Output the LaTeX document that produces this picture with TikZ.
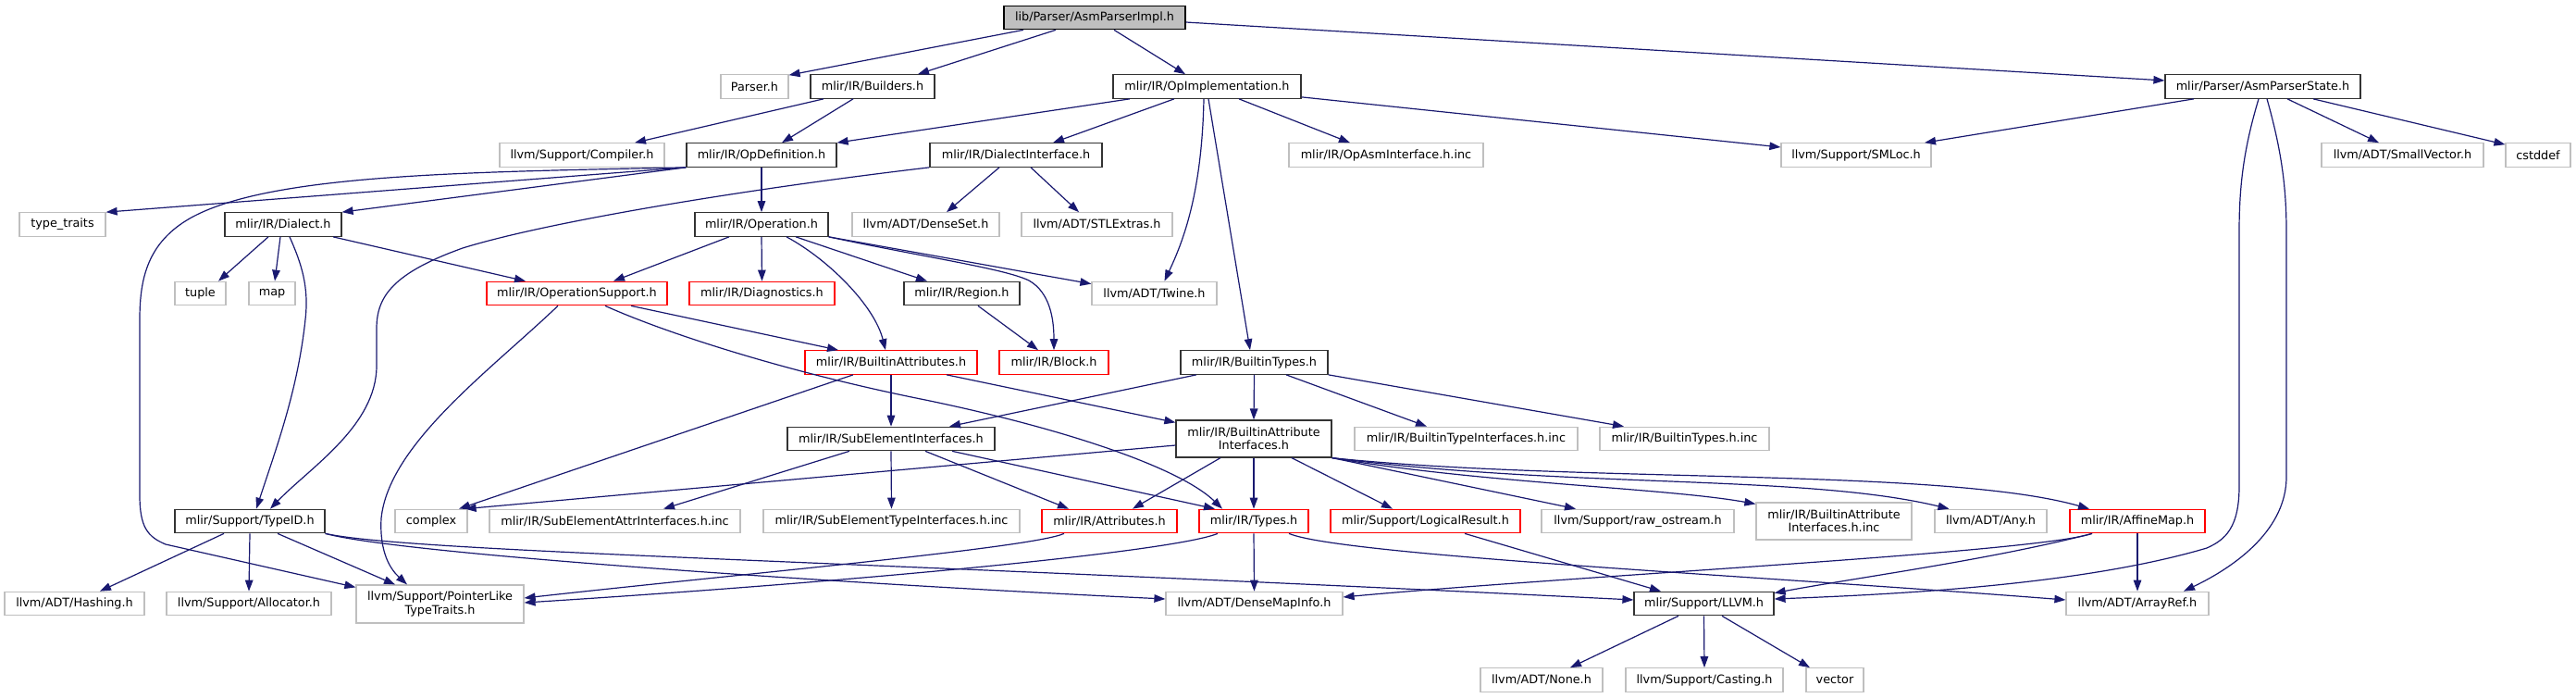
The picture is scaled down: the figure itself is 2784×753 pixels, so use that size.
\documentclass[tikz,border=0pt]{standalone}
\usepackage{fontspec}
\setmainfont{DejaVu Sans}
\usetikzlibrary{arrows.meta, positioning}

\definecolor{edgeblue}{HTML}{191970}
\definecolor{extgray}{HTML}{BFBFBF}
\newcommand{\depfont}{\fontsize{12.8}{14.3}\selectfont}

\begin{document}
\begin{tikzpicture}[
    x=1pt, y=-1pt,
    file/.style={rectangle, draw, line width=1.2pt, fill=white, minimum height=25.5, inner xsep=2pt, inner ysep=1pt, align=center, font=\depfont},
    root/.style={file, draw=black, fill=extgray},
    doc/.style={file, draw=black!80},
    ext/.style={file, draw=extgray},
    trunc/.style={file, draw=red},
    dep/.style={draw=edgeblue, line width=1.2pt, -{Triangle[length=12pt, width=8.5pt]}}
]

    \path [use as bounding box, fill=white] (0,0) rectangle (2784,753);

    % Layer 0: the file itself
    \node [root, minimum width=196] (asmimpl) at (1183,19) {lib/Parser/AsmParserImpl.h};

    % Layer 1: direct includes
    \node [ext, minimum width=73] (parser) at (815.5,93.5) {Parser.h};
    \node [doc, minimum width=134] (builders) at (943,93.5) {mlir/IR/Builders.h};
    \node [doc, minimum width=203] (opimpl) at (1304.5,93.5) {mlir/IR/OpImplementation.h};
    \node [doc, minimum width=211] (asmstate) at (2445.5,93.5) {mlir/Parser/AsmParserState.h};

    % Layer 2
    \node [ext, minimum width=178] (compiler) at (629,167.5) {llvm/Support/Compiler.h};
    \node [doc, minimum width=162] (opdef) at (823,167.5) {mlir/IR/OpDefinition.h};
    \node [doc, minimum width=186] (dialiface) at (1098,167.5) {mlir/IR/DialectInterface.h};
    \node [ext, minimum width=210] (opasm) at (1498,167.5) {mlir/IR/OpAsmInterface.h.inc};
    \node [ext, minimum width=162] (smloc) at (2006,167.5) {llvm/Support/SMLoc.h};
    \node [ext, minimum width=175] (smallvec) at (2596.5,167.5) {llvm/ADT/SmallVector.h};
    \node [ext, minimum width=70] (cstddef) at (2743,167.5) {cstddef};

    % Layer 3
    \node [ext, minimum width=93] (typetraits) at (67.5,242.5) {type\_traits};
    \node [doc, minimum width=126] (dialect) at (306,242.5) {mlir/IR/Dialect.h};
    \node [doc, minimum width=144] (operation) at (823,242.5) {mlir/IR/Operation.h};
    \node [ext, minimum width=159] (denseset) at (1000.5,242.5) {llvm/ADT/DenseSet.h};
    \node [ext, minimum width=163] (stlextras) at (1185.5,242.5) {llvm/ADT/STLExtras.h};

    % Layer 4
    \node [ext, minimum width=55] (tuple) at (216.5,317) {tuple};
    \node [ext, minimum width=50] (map) at (294,317) {map};
    \node [trunc, minimum width=195] (opsupport) at (623.5,317) {mlir/IR/OperationSupport.h};
    \node [trunc, minimum width=157] (diagnostics) at (823.5,317) {mlir/IR/Diagnostics.h};
    \node [doc, minimum width=125] (region) at (1039.5,317) {mlir/IR/Region.h};
    \node [ext, minimum width=135] (twine) at (1247.5,317) {llvm/ADT/Twine.h};

    % Layer 5
    \node [trunc, minimum width=186] (builtinattrs) at (963,391.5) {mlir/IR/BuiltinAttributes.h};
    \node [trunc, minimum width=118] (block) at (1139,391.5) {mlir/IR/Block.h};
    \node [doc, minimum width=159] (builtintypes) at (1355.5,391.5) {mlir/IR/BuiltinTypes.h};

    % Layer 6
    \node [doc, minimum width=224] (subelem) at (963,474) {mlir/IR/SubElementInterfaces.h};
    \node [doc, minimum width=168, minimum height=40] (bai) at (1355,474) {mlir/IR/BuiltinAttribute\\Interfaces.h};
    \node [ext, minimum width=241] (btiinc) at (1584.5,474) {mlir/IR/BuiltinTypeInterfaces.h.inc};
    \node [ext, minimum width=183] (btinc) at (1820.5,474) {mlir/IR/BuiltinTypes.h.inc};

    % Layer 7
    \node [doc, minimum width=162] (typeid) at (270,563) {mlir/Support/TypeID.h};
    \node [ext, minimum width=78] (complex) at (466,563) {complex};
    \node [ext, minimum width=271] (seattr) at (664.5,563) {mlir/IR/SubElementAttrInterfaces.h.inc};
    \node [ext, minimum width=277] (setype) at (963.5,563) {mlir/IR/SubElementTypeInterfaces.h.inc};
    \node [trunc, minimum width=146] (attributes) at (1199,563) {mlir/IR/Attributes.h};
    \node [trunc, minimum width=118] (types) at (1355,563) {mlir/IR/Types.h};
    \node [trunc, minimum width=205] (logical) at (1540.5,563) {mlir/Support/LogicalResult.h};
    \node [ext, minimum width=208] (rawostream) at (1770,563) {llvm/Support/raw\_ostream.h};
    \node [ext, minimum width=168, minimum height=40] (baiinc) at (1982,563) {mlir/IR/BuiltinAttribute\\Interfaces.h.inc};
    \node [ext, minimum width=121] (any) at (2151.5,563) {llvm/ADT/Any.h};
    \node [trunc, minimum width=146] (affine) at (2310,563) {mlir/IR/AffineMap.h};

    % Layer 8
    \node [ext, minimum width=151] (hashing) at (80.5,652) {llvm/ADT/Hashing.h};
    \node [ext, minimum width=178] (allocator) at (269,652) {llvm/Support/Allocator.h};
    \node [ext, minimum width=181, minimum height=41] (pointerlike) at (475.5,652.5) {llvm/Support/PointerLike\\TypeTraits.h};
    \node [ext, minimum width=191] (densemap) at (1355.5,652) {llvm/ADT/DenseMapInfo.h};
    \node [doc, minimum width=151] (llvmh) at (1841.5,652) {mlir/Support/LLVM.h};
    \node [ext, minimum width=154] (arrayref) at (2310,652) {llvm/ADT/ArrayRef.h};

    % Layer 9
    \node [ext, minimum width=132] (none) at (1666,734.5) {llvm/ADT/None.h};
    \node [ext, minimum width=170] (casting) at (1842,734.5) {llvm/Support/Casting.h};
    \node [ext, minimum width=62] (vector) at (1983,734.5) {vector};

    % Includes of AsmParserImpl.h
    \path [dep] ([xshift=-77]asmimpl.south) -- ([yshift=-1]parser.north east);
    \path [dep] ([xshift=-42]asmimpl.south) -- ([xshift=49]builders.north);
    \path [dep] ([xshift=21]asmimpl.south) -- ([xshift=-23.5]opimpl.north);
    \path [dep] ([yshift=-5]asmimpl.east) -- ([yshift=6.5]asmstate.west);

    % Builders.h and OpImplementation.h
    \path [dep] ([xshift=-53]builders.south) -- ([xshift=57]compiler.north);
    \path [dep] ([xshift=-21]builders.south) -- ([xshift=22]opdef.north);
    \path [dep] ([xshift=-83.5]opimpl.south) -- (opdef.north east);
    \path [dep] ([xshift=-35.5]opimpl.south) -- ([xshift=40]dialiface.north);
    \path [dep] ([xshift=34.5]opimpl.south) -- ([xshift=-39]opasm.north);
    \path [dep] ([yshift=2]opimpl.south east) -- ([yshift=8.5]smloc.west);
    \path [dep] ([xshift=-3.5]opimpl.south) .. controls (1299,210) and (1278,262) .. ([xshift=11]twine.north);
    \path [dep] ([xshift=1.5]opimpl.south) -- ([xshift=-4.5]builtintypes.north);

    % AsmParserState.h
    \path [dep] ([xshift=-74.5]asmstate.south) -- ([xshift=74]smloc.north);
    \path [dep] ([xshift=26.5]asmstate.south) -- ([xshift=-25.5]smallvec.north);
    \path [dep] ([xshift=54.5]asmstate.south) -- ([yshift=-2]cstddef.north west);
    \path [dep] ([xshift=-4.5]asmstate.south) .. controls (2425,160) and (2420,200) .. (2420,250) -- (2420,525)
        .. controls (2420,570) and (2405,583) .. (2385,592) .. controls (2250,632) and (2050,642) .. ([yshift=5]llvmh.east);
    \path [dep] ([xshift=4.5]asmstate.south) .. controls (2465,160) and (2471,200) .. (2471,250) -- (2471,515)
        .. controls (2471,570) and (2420,610) .. ([xshift=50]arrayref.north);

    % OpDefinition.h
    \path [dep] (opdef.south west) -- (typetraits.north east);
    \path [dep] (opdef.south west) -- (dialect.north east);
    \path [dep] (opdef.south) -- (operation.north);
    \path [dep] (opdef.south west) .. controls (500,186) and (290,188) .. (205,236) .. controls (160,262) and (151,300) .. (151,345)
        -- (151,535) .. controls (151,570) and (160,580) .. (179,588) -- ([yshift=-3]pointerlike.north west);

    % DialectInterface.h
    \path [dep] ([xshift=-18]dialiface.south) -- ([xshift=22.5]denseset.north);
    \path [dep] ([xshift=16]dialiface.south) -- ([xshift=-19.5]stlextras.north);
    \path [dep] (dialiface.south west) .. controls (800,205) and (590,240) .. (500,268) .. controls (425,295) and (407,320) .. (407,355)
        -- (407,395) .. controls (407,460) and (335,505) .. ([xshift=22]typeid.north);

    % Dialect.h
    \path [dep] ([xshift=-16]dialect.south) -- ([xshift=19.5]tuple.north);
    \path [dep] ([xshift=-3]dialect.south) -- ([xshift=3]map.north);
    \path [dep] ([xshift=7]dialect.south) .. controls (326,285) and (334,310) .. (330,345) .. controls (322,420) and (300,480) .. ([xshift=7]typeid.north);
    \path [dep] ([xshift=54]dialect.south) -- ([xshift=-55.5]opsupport.north);

    % Operation.h
    \path [dep] ([xshift=-35]operation.south) -- ([xshift=39.5]opsupport.north);
    \path [dep] (operation.south) -- (diagnostics.north);
    \path [dep] ([xshift=37]operation.south) -- ([xshift=-37.5]region.north);
    \path [dep] ([xshift=27]operation.south) .. controls (895,280) and (945,330) .. ([xshift=-6]builtinattrs.north);
    \path [dep] (operation.south east) .. controls (1000,278) and (1085,290) .. (1112,303) .. controls (1135,316) and (1139,345) .. (block.north);
    \path [dep] (operation.south east) -- ([yshift=-3]twine.north west);

    % OperationSupport.h and Region.h
    \path [dep] ([xshift=-20.5]opsupport.south) .. controls (530,400) and (420,480) .. (412,560) .. controls (410,597) and (422,615) .. ([xshift=-35.5]pointerlike.north);
    \path [dep] ([xshift=58.5]opsupport.south) -- ([xshift=-57]builtinattrs.north);
    \path [dep] ([xshift=30.5]opsupport.south) .. controls (720,360) and (850,402) .. (1000,432) .. controls (1150,463) and (1275,505) .. ([xshift=-34]types.north);
    \path [dep] ([xshift=17.5]region.south) -- ([xshift=-17]block.north);

    % BuiltinAttributes.h and BuiltinTypes.h
    \path [dep] ([xshift=-41]builtinattrs.south) -- ([xshift=30]complex.north);
    \path [dep] (builtinattrs.south) -- (subelem.north);
    \path [dep] ([xshift=60]builtinattrs.south) -- ([yshift=-3]bai.north west);
    \path [dep] ([xshift=-62.5]builtintypes.south) -- ([xshift=63]subelem.north);
    \path [dep] (builtintypes.south) -- (bai.north);
    \path [dep] ([xshift=34.5]builtintypes.south) -- ([xshift=-42.5]btiinc.north);
    \path [dep] (builtintypes.south east) -- ([xshift=-65.5]btinc.north);

    % SubElementInterfaces.h
    \path [dep] ([xshift=-45]subelem.south) -- ([xshift=52.5]seattr.north);
    \path [dep] (subelem.south) -- (setype.north);
    \path [dep] ([xshift=37]subelem.south) -- ([xshift=-44]attributes.north);
    \path [dep] ([xshift=66]subelem.south) -- ([xshift=-42]types.north);

    % BuiltinAttributeInterfaces.h
    \path [dep] ([yshift=-7]bai.west) -- ([xshift=-3]complex.north east);
    \path [dep] ([xshift=-36]bai.south) -- ([xshift=25]attributes.north);
    \path [dep] (bai.south) -- (types.north);
    \path [dep] ([xshift=41]bai.south) -- ([xshift=-35.5]logical.north);
    \path [dep] (bai.south east) -- ([xshift=-67]rawostream.north);
    \path [dep] (bai.south east) .. controls (1600,522) and (1800,527) .. ([yshift=-2]baiinc.north west);
    \path [dep] (bai.south east) .. controls (1700,528) and (1950,512) .. ([xshift=-45]any.north);
    \path [dep] (bai.south east) .. controls (1700,522) and (2100,505) .. ([xshift=-52]affine.north);

    % TypeID.h
    \path [dep] ([xshift=-28]typeid.south) -- ([xshift=27.5]hashing.north);
    \path [dep] (typeid.south) -- (allocator.north);
    \path [dep] ([xshift=30]typeid.south) -- ([xshift=-48.5]pointerlike.north);
    \path [dep] (typeid.south east) .. controls (430,598) and (900,630) .. ([yshift=5]densemap.west);
    \path [dep] (typeid.south east) .. controls (440,596) and (900,605) .. ([yshift=4]llvmh.west);

    % Attributes.h, Types.h, LogicalResult.h, AffineMap.h
    \path [dep] ([xshift=-49]attributes.south) .. controls (1115,592) and (800,620) .. ([yshift=6.5]pointerlike.east);
    \path [dep] ([xshift=-39]types.south) .. controls (1265,597) and (900,630) .. ([yshift=1.5]pointerlike.east);
    \path [dep] (types.south) -- (densemap.north);
    \path [dep] ([xshift=38]types.south) .. controls (1450,600) and (1900,622) .. ([yshift=4]arrayref.west);
    \path [dep] ([xshift=42.5]logical.south) -- ([xshift=-46.5]llvmh.north);
    \path [dep] ([xshift=-49]affine.south) .. controls (2200,597) and (1700,622) .. ([yshift=7]densemap.east);
    \path [dep] ([xshift=-49]affine.south) .. controls (2150,605) and (2000,625) .. ([yshift=-2]llvmh.north east);
    \path [dep] (affine.south) -- (arrayref.north);

    % LLVM.h
    \path [dep] ([xshift=-27.5]llvmh.south) -- ([xshift=31]none.north);
    \path [dep] (llvmh.south) -- (casting.north);
    \path [dep] ([xshift=19.5]llvmh.south) -- ([xshift=-27]vector.north);

\end{tikzpicture}
\end{document}
